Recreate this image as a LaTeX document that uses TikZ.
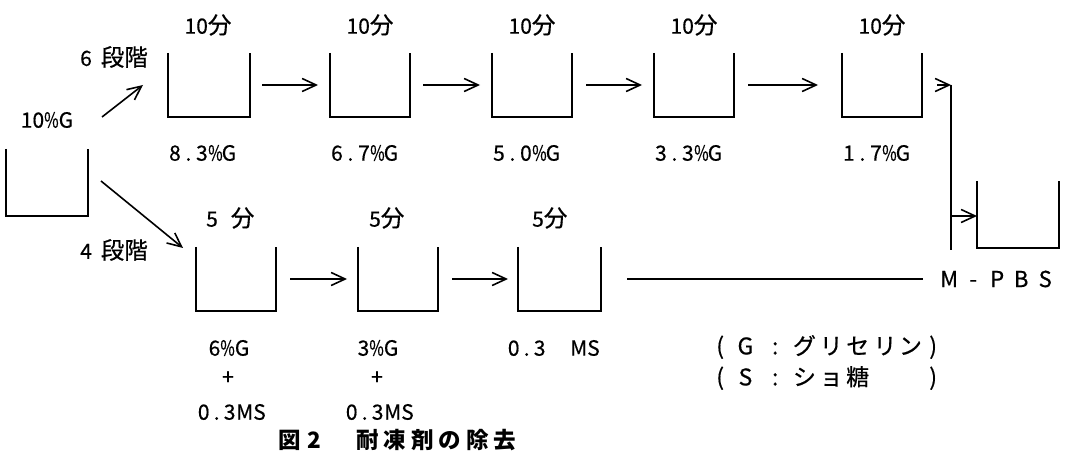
\documentclass[tikz,border=0pt]{standalone}
\usepackage{fontspec}
\usepackage{graphicx}
\setmainfont{Noto Sans CJK JP}[UprightFeatures={FakeBold=0.5}]
\usetikzlibrary{arrows.meta}
\newcommand\pc{\scalebox{0.75}[1]{\%}}
\newcommand\ch[1]{\makebox[13.5pt]{#1}}
\newcommand\bx[2]{\makebox[#1pt]{#2}}
\newcommand\kj[1]{{\fontsize{23.5}{24}\selectfont #1}}
\begin{document}
\begin{tikzpicture}[x=1pt,y=-1pt,
  cup/.style={minimum width=80pt, minimum height=64pt, inner sep=0pt, outer sep=0pt},
  lab/.style={inner sep=0pt, font=\fontsize{21}{24}\selectfont},
  arr/.style={-{Straight Barb[length=14pt,width=13pt,line width=1.6pt]}, line width=1.6pt},
  ln/.style={line width=1.6pt},
  ttl/.style={inner sep=0pt, font=\fontsize{22.5}{24}\selectfont\bfseries},
]
\useasboundingbox (0,0) rectangle (1066,457);
% containers
\node[cup, minimum width=82pt, minimum height=67pt] (i0) at (47,182.5) {};
\node[cup, minimum width=82pt] (t1) at (209,85) {};
\node[cup] (t2) at (370,85) {};
\node[cup] (t3) at (532,85) {};
\node[cup] (t4) at (694,85) {};
\node[cup] (t5) at (882,85) {};
\node[cup] (b1) at (236,279) {};
\node[cup] (b2) at (398,279) {};
\node[cup, minimum width=83pt] (b3) at (559.5,279) {};
\node[cup, minimum width=82pt, minimum height=67pt] (m) at (1018,214.5) {};
\foreach \n in {i0,t1,t2,t3,t4,t5,b1,b2,b3,m}
  \draw[ln] (\n.north west) -- (\n.south west) -- (\n.south east) -- (\n.north east);

% labels
\node[lab] (l0) at (47,120) {10\pc G};
\node[lab,anchor=west] (s6) at (80,57) {6\hspace{9pt}\kj{段階}};
\node[lab,anchor=west] (s4) at (80,250) {4\hspace{9pt}\kj{段階}};
\node[lab] (tl1) at (208,25) {10\kj{分}};
\node[lab] (tl2) at (370,25) {10\kj{分}};
\node[lab] (tl3) at (532,25) {10\kj{分}};
\node[lab] (tl4) at (694,25) {10\kj{分}};
\node[lab] (tl5) at (882,25) {10\kj{分}};
\node[lab,anchor=west] (bl1) at (168,153) {\ch{8}\ch{.}\ch{3}\ch{\pc}\ch{G}};
\node[lab,anchor=west] (bl2) at (330,153) {\ch{6}\ch{.}\ch{7}\ch{\pc}\ch{G}};
\node[lab,anchor=west] (bl3) at (492,153) {\ch{5}\ch{.}\ch{0}\ch{\pc}\ch{G}};
\node[lab,anchor=west] (bl4) at (654,153) {\ch{3}\ch{.}\ch{3}\ch{\pc}\ch{G}};
\node[lab,anchor=west] (bl5) at (842,153) {\ch{1}\ch{.}\ch{7}\ch{\pc}\ch{G}};

\node[lab,anchor=west] (ul1) at (206,218) {5\hspace{13pt}\kj{分}};
\node[lab,anchor=west] (ul2) at (369,218) {5\kj{分}};
\node[lab,anchor=west] (ul3) at (532,218) {5\kj{分}};

\node[lab] (c1a) at (229,348) {6\pc G};
\node[lab] (c1b) at (228,378) {+};
\node[lab,anchor=west] (c1c) at (197,412) {\bx{13}{0}\bx{13}{.}\bx{13}{3}MS};
\node[lab] (c2a) at (378,348) {3\pc G};
\node[lab] (c2b) at (377,378) {+};
\node[lab,anchor=west] (c2c) at (345,412) {\bx{13}{0}\bx{13}{.}\bx{13}{3}MS};
\node[lab,anchor=west] (c3a) at (507,348) {\bx{13}{0}\bx{13}{.}\bx{13}{3}\hspace{24pt}MS};

\node[lab,anchor=west,font=\fontsize{22}{24}\selectfont] (mp) at (937,279) {\bx{24}{M}\bx{24}{-}\bx{24}{P}\bx{24}{B}\bx{24}{S}};

\node[lab,anchor=west,font=\fontsize{23}{26}\selectfont] (gl) at (709,347)
  {\bx{22}{(}\bx{28.5}{G}\bx{31}{:}\bx{27.5}{グ}\bx{26}{リ}\bx{27}{セ}\bx{27.5}{リ}\bx{23.5}{ン}\bx{22}{)}};
\node[lab,anchor=west,font=\fontsize{23}{26}\selectfont] (sl) at (709,378)
  {\bx{22}{(}\bx{28.5}{S}\bx{31}{:}\bx{27.5}{シ}\bx{26}{ョ}\bx{27}{糖}\bx{27.5}{}\bx{23.5}{}\bx{22}{)}};

\node[ttl,anchor=west] (cap) at (278,440)
  {\bx{24}{図}\bx{24}{2}\bx{27.5}{}\bx{27.5}{耐}\bx{27.5}{凍}\bx{27.5}{剤}\bx{27.5}{の}\bx{27.5}{除}\bx{27.5}{去}};

% connectors
\coordinate (d1) at (102,117);
\coordinate (d2) at (143,85);
\coordinate (d3) at (101,181);
\coordinate (d4) at (183,248);
\draw[arr] (d1) -- (d2);
\draw[arr] (d3) -- (d4);
\draw[arr, shorten <=12pt, shorten >=12pt] (t1.east) -- (t2.west);
\draw[arr, shorten <=13pt, shorten >=12pt] (t2.east) -- (t3.west);
\draw[arr, shorten <=14pt, shorten >=12pt] (t3.east) -- (t4.west);
\draw[arr, shorten <=14pt, shorten >=24pt] (t4.east) -- (t5.west);
\coordinate (j1) at (951,85);
\coordinate (j2) at (951,250);
\coordinate (j3) at (951,216);
\draw[arr, shorten <=15pt] (t5.east) -- (j1);
\draw[ln] (j1) -- (j2);
\draw[arr] (j3) -- (m.west |- j3);
\draw[arr, shorten <=14pt, shorten >=11pt] (b1.east) -- (b2.west);
\draw[arr, shorten <=14pt, shorten >=10pt] (b2.east) -- (b3.west);
\draw[ln, shorten <=26pt, shorten >=14pt] (b3.east) -- (mp.west);
\end{tikzpicture}
\end{document}
